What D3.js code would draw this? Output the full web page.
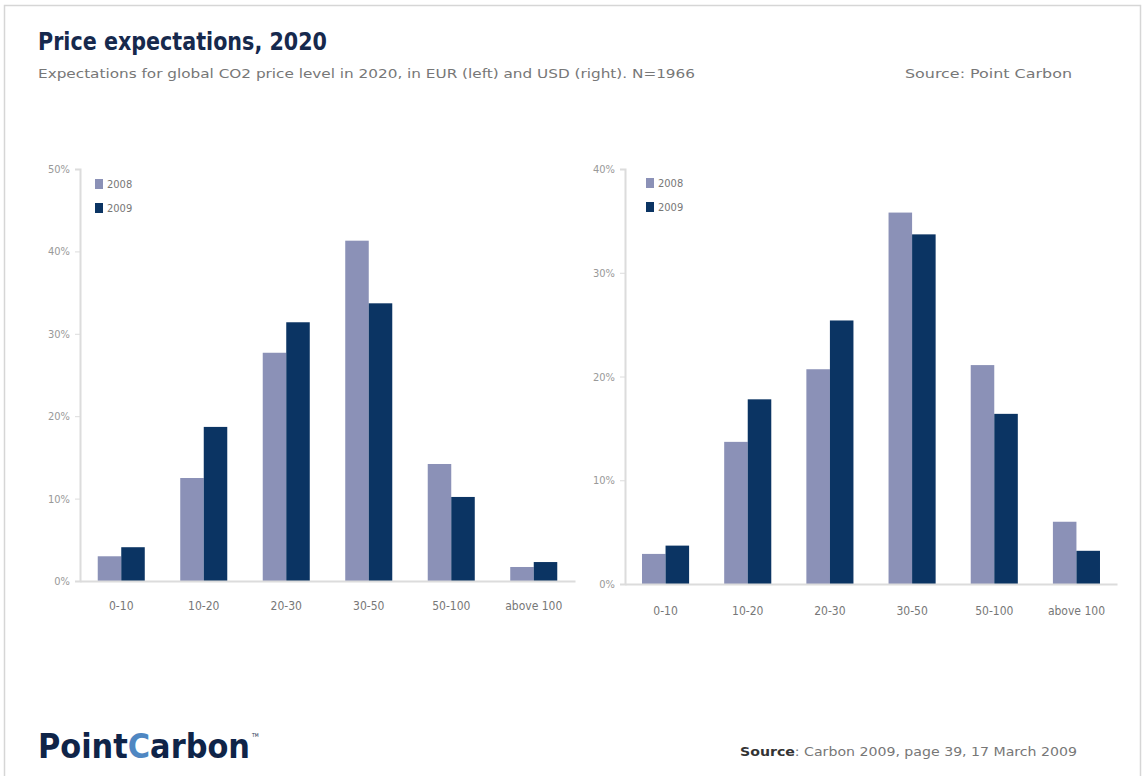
<!DOCTYPE html>
<html><head><meta charset="utf-8">
<script src="https://cdn.jsdelivr.net/npm/d3@7"></script>
<style>
body{margin:0;background:#fff;}
svg text{font-family:"Liberation Sans Narrow","DejaVu Sans Condensed","Liberation Sans",Arial,sans-serif;}
</style></head>
<body><svg id="c" width="1143" height="776"></svg>
<script>
const categories = ["0-10","10-20","20-30","30-50","50-100","above 100"];
const seriesNames = ["2008","2009"];
const eur2008 = [3.0,12.5,27.7,41.3,14.2,1.7];
const eur2009 = [4.1,18.7,31.4,33.7,10.2,2.3];
const usd2008 = [2.9,13.7,20.7,35.8,21.1,6.0];
const usd2009 = [3.7,17.8,25.4,33.7,16.4,3.2];
const eurTicks = [0,10,20,30,40,50];
const usdTicks = [0,10,20,30,40];
const colors = ["#8b91b7","#0b3463"];

const svg = d3.select("#c");
svg.append("rect").attr("x",4.5).attr("y",5.5).attr("width",1136).attr("height",800)
  .attr("fill","none").attr("stroke","#d6d6d6").attr("stroke-width",1.5);

svg.append("text").attr("x",38).attr("y",50).text("Price expectations, 2020")
  .attr("font-size",25).attr("font-weight","bold").attr("fill","#16294d")
  .attr("textLength",289).attr("lengthAdjust","spacingAndGlyphs");
svg.append("text").attr("x",38).attr("y",78).text("Expectations for global CO2 price level in 2020, in EUR (left) and USD (right). N=1966")
  .attr("font-size",13).attr("fill","#777").attr("textLength",657).attr("lengthAdjust","spacingAndGlyphs");
svg.append("text").attr("x",1072).attr("y",78).attr("text-anchor","end").text("Source: Point Carbon")
  .attr("font-size",13).attr("fill","#777").attr("textLength",167).attr("lengthAdjust","spacingAndGlyphs");

function chart(cfg){
  const g = svg.append("g");
  const x = d3.scaleBand().domain(categories).range([cfg.x0,cfg.x1]).paddingInner(cfg.pi).paddingOuter(cfg.po);
  const xs = d3.scaleBand().domain(seriesNames).range([0,x.bandwidth()]);
  const y = d3.scaleLinear().domain([0,cfg.max]).range([cfg.y0,cfg.y1]);
  const data = categories.map((c,i)=>({c, v:[cfg.a[i],cfg.b[i]]}));
  // bars
  const grp = g.selectAll("g.grp").data(data).join("g").attr("transform",d=>`translate(${x(d.c)},0)`);
  grp.selectAll("rect").data(d=>d.v.map((v,j)=>({s:seriesNames[j],v,j}))).join("rect")
    .attr("x",d=>xs(d.s)).attr("width",xs.bandwidth())
    .attr("y",d=>y(d.v)).attr("height",d=>y(0)-y(d.v)).attr("fill",d=>colors[d.j]);
  // y axis
  const ya = d3.axisLeft(y).tickValues(cfg.ticks).tickFormat(d=>d+"%").tickSize(5).tickPadding(5);
  const yg = g.append("g").attr("transform",`translate(${cfg.x0},0)`).call(ya);
  yg.select(".domain").attr("stroke","#dcdcdc").attr("stroke-width",2);
  yg.selectAll(".tick line").attr("stroke","#dcdcdc");
  yg.selectAll(".tick text").attr("fill","#999").attr("font-size",11)
    .attr("font-family","\"Liberation Sans Narrow\",\"DejaVu Sans Condensed\",sans-serif");
  // x axis
  const xa = d3.axisBottom(x).tickSize(0).tickPadding(cfg.lp);
  const xg = g.append("g").attr("transform",`translate(0,${cfg.y0})`).call(xa);
  xg.select(".domain").attr("stroke","#dcdcdc").attr("stroke-width",2);
  xg.selectAll(".tick text").attr("fill","#777").attr("font-size",12)
    .attr("font-family","\"Liberation Sans Narrow\",\"DejaVu Sans Condensed\",sans-serif");
  // legend
  seriesNames.forEach((s,j)=>{
    const ly = cfg.ly + j*24;
    g.append("rect").attr("x",cfg.lx).attr("y",ly-5).attr("width",8).attr("height",10).attr("fill",colors[j]);
    g.append("text").attr("x",cfg.lx+12).attr("y",ly+4).text(s).attr("font-size",11).attr("fill","#777");
  });
}
chart({x0:80,x1:575,pi:0.43,po:0.215,y0:581,y1:169,max:50,ticks:eurTicks,a:eur2008,b:eur2009,lx:95,ly:184,lp:20});
chart({x0:625,x1:1117,pi:0.427,po:0.207,y0:584,y1:169,max:40,ticks:usdTicks,a:usd2008,b:usd2009,lx:646,ly:183,lp:22});

// footer
const logo = svg.append("text").attr("x",38).attr("y",758).attr("font-size",33).attr("font-weight","bold")
  .attr("textLength",212).attr("lengthAdjust","spacingAndGlyphs");
logo.append("tspan").text("Point").attr("fill","#0f2448");
logo.append("tspan").text("C").attr("fill","#4f87c2");
logo.append("tspan").text("arbon").attr("fill","#0f2448");
svg.append("text").attr("x",252).attr("y",737).text("TM").attr("font-size",5).attr("fill","#0f2448");
const src = svg.append("text").attr("x",740).attr("y",756).attr("font-size",13).attr("fill","#777")
  .attr("textLength",337).attr("lengthAdjust","spacingAndGlyphs");
src.append("tspan").text("Source").attr("font-weight","bold").attr("fill","#333");
src.append("tspan").text(": Carbon 2009, page 39, 17 March 2009");
</script></body></html>
